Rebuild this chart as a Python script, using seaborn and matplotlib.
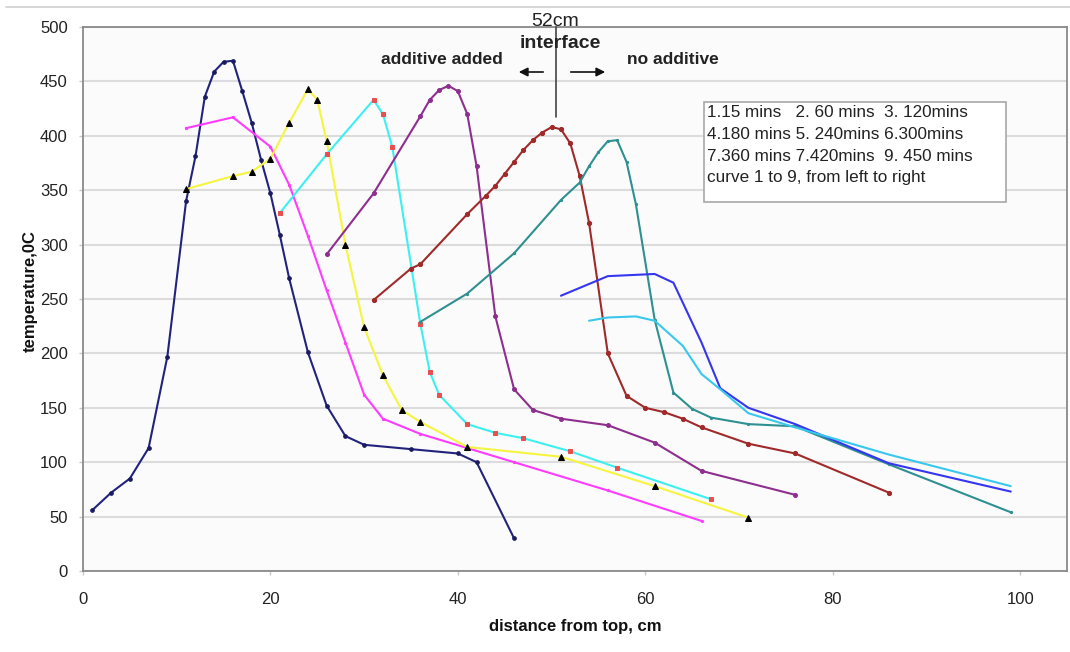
import matplotlib
matplotlib.use("Agg")
import matplotlib.pyplot as plt
import matplotlib.patches as mpatches
import matplotlib.lines as mlines
import pandas as pd
import seaborn as sns

# ---- data (distance from top, cm  /  temperature, 0C) ----
c1_x = [1, 3, 5, 7, 9, 11, 12, 13, 14, 15, 16, 17, 18, 19, 20, 21, 22, 24, 26, 28, 30, 35, 40, 42, 46]
c1_y = [56, 72, 85, 113, 197, 340, 381, 436, 459, 468, 469, 441, 412, 378, 347, 309, 269, 201, 152, 124, 116, 112, 108, 100, 30]

c2_x = [11, 16, 20, 22, 24, 26, 28, 30, 32, 36, 46, 56, 66]
c2_y = [407, 417, 390, 355, 308, 258, 210, 162, 140, 126, 100, 74, 46]

c3_x = [11, 16, 18, 20, 22, 24, 25, 26, 28, 30, 32, 34, 36, 41, 51, 61, 71]
c3_y = [351, 363, 367, 379, 412, 443, 433, 395, 300, 224, 180, 148, 137, 114, 105, 78, 49]

c4_x = [21, 26, 31, 32, 33, 36, 37, 38, 41, 44, 47, 52, 57, 67]
c4_y = [329, 383, 433, 420, 390, 227, 183, 162, 135, 127, 122, 110, 95, 66]

c5_x = [26, 31, 36, 37, 38, 39, 40, 41, 42, 44, 46, 48, 51, 56, 61, 66, 76]
c5_y = [291, 347, 418, 433, 442, 446, 441, 420, 372, 234, 167, 148, 140, 134, 118, 92, 70]

c6_x = [31, 35, 36, 41, 43, 44, 45, 46, 47, 48, 49, 50, 51, 52, 53, 54, 56, 58, 60, 62, 64, 66, 71, 76, 86]
c6_y = [249, 278, 282, 328, 345, 354, 365, 376, 387, 396, 403, 408, 406, 393, 363, 320, 200, 161, 150, 146, 140, 132, 117, 108, 72]

c7_x = [36, 41, 46, 51, 53, 54, 55, 56, 57, 58, 59, 61, 63, 65, 67, 71, 76, 86, 99]
c7_y = [229, 255, 292, 341, 357, 372, 385, 395, 396, 376, 337, 231, 164, 149, 141, 135, 133, 98, 54]

c8_x = [51, 56, 61, 63, 66, 68, 71, 76, 86, 99]
c8_y = [253, 271, 273, 265, 210, 168, 150, 135, 99, 73]

c9_x = [54, 56, 59, 61, 64, 66, 68, 71, 76, 86, 99]
c9_y = [230, 233, 234, 230, 207, 181, 167, 145, 132, 107, 78]

x_ticks = [0, 20, 40, 60, 80, 100]
y_ticks = [0, 50, 100, 150, 200, 250, 300, 350, 400, 450, 500]

legend_lines = [
    "1.15 mins   2. 60 mins  3. 120mins",
    "4.180 mins 5. 240mins 6.300mins",
    "7.360 mins 7.420mins  9. 450 mins",
    "curve 1 to 9, from left to right",
]

series = [
    (c1_x, c1_y, dict(color="#23237e", marker="o", markersize=2.6, markerfacecolor="#1a1a60", markeredgecolor="#1a1a60")),
    (c2_x, c2_y, dict(color="#ff3cff", marker="o", markersize=1.6, markerfacecolor="#ff3cff", markeredgecolor="#ff3cff")),
    (c3_x, c3_y, dict(color="#f5f540", marker="^", markersize=4.2, markerfacecolor="black", markeredgecolor="black")),
    (c4_x, c4_y, dict(color="#3df0f0", marker="s", markersize=3.0, markerfacecolor="#e85050", markeredgecolor="#e85050")),
    (c5_x, c5_y, dict(color="#8e2e8e", marker="o", markersize=2.8, markerfacecolor="#8e2e8e", markeredgecolor="#8e2e8e")),
    (c6_x, c6_y, dict(color="#a02a2a", marker="o", markersize=3.0, markerfacecolor="#a02a2a", markeredgecolor="#a02a2a")),
    (c7_x, c7_y, dict(color="#2e9090", marker="o", markersize=1.6, markerfacecolor="#2e9090", markeredgecolor="#2e9090")),
    (c8_x, c8_y, dict(color="#3636f0", marker=None)),
    (c9_x, c9_y, dict(color="#38c8ee", marker=None)),
]

sns.set_theme(style="white")
plt.rcParams["font.family"] = ["Liberation Sans", "DejaVu Sans"]

W, H = 1070, 652
fig = plt.figure(figsize=(W / 100, H / 100), dpi=100, facecolor="white")
ax = fig.add_axes([83 / W, 81 / H, 984 / W, 544 / H])
ax.set_facecolor("#fbfbfb")

for i, (xs, ys, kw) in enumerate(series):
    df = pd.DataFrame({"x": xs, "y": ys})
    sns.lineplot(data=df, x="x", y="y", ax=ax, estimator=None, sort=False,
                 linewidth=1.5, zorder=3 + i, **kw)

ax.set_xlim(0, 105)
ax.set_ylim(0, 500)
ax.set_xticks(x_ticks)
ax.set_yticks(y_ticks)
ax.yaxis.grid(True, color="#dcdcdc", linewidth=1.5)
ax.xaxis.grid(False)
ax.set_axisbelow(True)
for s in ax.spines.values():
    s.set_color("#8a8a8a")
    s.set_linewidth(1.3)
ax.tick_params(axis="both", which="major", length=3, width=1, color="#c8c8c8",
               labelsize=12, labelcolor="#222222", direction="out")
ax.tick_params(axis="x", pad=12)
ax.tick_params(axis="y", pad=8)
ax.tick_params(bottom=True, left=True)

ax.set_xlabel("distance from top, cm", fontsize=12, fontweight="bold", color="#111111")
ax.set_ylabel("temperature,0C", fontsize=12, fontweight="bold", color="#111111")
ax.xaxis.set_label_coords((575 - 83) / 984, -(619 - 571) / 544)
ax.yaxis.set_label_coords((38 - 83) / 984, 0.515)


def fx(px):
    return px / W


def fy(py):
    return 1 - py / H


# chart-area top border
fig.add_artist(mlines.Line2D([fx(6), 1], [fy(7), fy(7)], color="#d0d0d0", linewidth=1.2))

# interface marker line
ax.plot([50.5, 50.5], [500, 417], color="#444444", linewidth=1.2, clip_on=False, zorder=20)
fig.text(fx(555), fy(22), "52cm", fontsize=14, ha="center", va="center", color="#222222")
fig.text(fx(560), fy(43), "interface", fontsize=14, fontweight="bold", ha="center", va="center", color="#222222")
fig.text(fx(442), fy(60), "additive added", fontsize=12.5, fontweight="bold", ha="center", va="center", color="#222222")
fig.text(fx(673), fy(60), "no additive", fontsize=12.5, fontweight="bold", ha="center", va="center", color="#222222")
fig.add_artist(mpatches.FancyArrowPatch((fx(546), fy(72)), (fx(516), fy(72)), transform=fig.transFigure,
                                        arrowstyle="-|>", mutation_scale=13, color="#111111", linewidth=1.2))
fig.add_artist(mpatches.FancyArrowPatch((fx(568), fy(72)), (fx(608), fy(72)), transform=fig.transFigure,
                                        arrowstyle="-|>", mutation_scale=13, color="#111111", linewidth=1.2))

# legend-like text box
fig.add_artist(mpatches.Rectangle((fx(704), fy(202)), fx(1006) - fx(704), fy(102) - fy(202),
                                  transform=fig.transFigure, facecolor="white", edgecolor="#a8a8a8",
                                  linewidth=1.2, zorder=30))
for k, line in enumerate(legend_lines):
    t = fig.text(fx(707), fy(112.7 + 21.7 * k), line, fontsize=12.3, ha="left", va="center", color="#222222")
    t.set_zorder(31)

fig.savefig("out.png", dpi=100, facecolor="white")
